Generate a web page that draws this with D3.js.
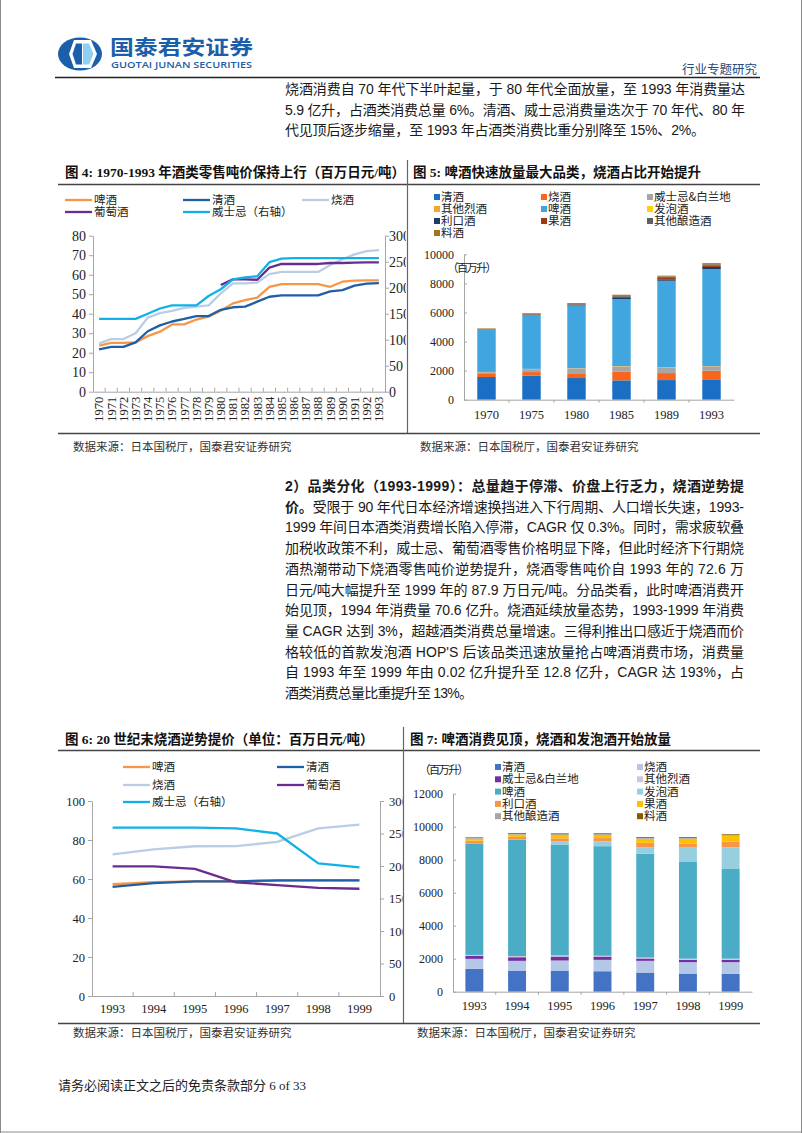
<!DOCTYPE html>
<html><head><meta charset="utf-8">
<script src="https://cdn.jsdelivr.net/npm/d3@7"></script>
<style>body{margin:0;background:#fff}svg{display:block}</style>
</head><body>
<svg id="page" width="802" height="1133"></svg>
<script>
// ---------------- DATA ----------------
// Figure 4 (1970-1993, 百万日元/吨)
const years4 = ["1970","1971","1972","1973","1974","1975","1976","1977","1978","1979","1980","1981","1982","1983","1984","1985","1986","1987","1988","1989","1990","1991","1992","1993"];
const beer4   = [23.6,25,25,25.3,28.5,30.8,34.5,34.5,37,38.5,41.5,45.3,47,48.2,53.8,55.2,55.2,55.2,55.2,53.8,56.4,57,57.1,57.1];
const sake4   = [21.7,23,23,25.3,31,34,36,37.3,38.8,38.8,42,43.3,43.6,46.2,48.7,49.4,49.4,49.4,49.4,51.4,52.1,54.4,55.4,55.7];
const shochu4 = [24.8,27,27,30,38,40.3,41.4,43,43.6,44.3,50.4,55.6,55.6,56,60.3,61.4,61.4,61.4,61.4,65,67.9,70.4,72.1,72.6];
const wine4   = [null,null,null,null,null,null,null,null,null,null,54.7,57.6,57.6,57.4,63.6,65.5,65.5,65.5,65.5,66,66,66.2,66.3,66.3];
const whisky4 = [140,140,140,140,150,160,166,166,166,184,197,216,220,222,249,256,257,257,257,257,257,257,257,257];
const leftTicks4 = [0,10,20,30,40,50,60,70,80];
const rightTicks = [0,50,100,150,200,250,300];

// Figure 5 (百万升)
const years5 = ["1970","1975","1980","1985","1989","1993"];
const keys = ["清酒","烧酒","威士忌&白兰地","其他烈酒","啤酒","发泡酒","利口酒","果酒","其他酿造酒","料酒"];
const sake5    = [1560,1650,1490,1330,1350,1400];
const shochu5  = [260,250,280,610,480,590];
const whisky5  = [70,200,360,340,360,270];
const spirits5 = [20,20,30,30,40,40];
const beer5    = [2900,3690,4310,4610,5950,6680];
const happo5   = [0,0,0,0,0,0];
const liqueur5 = [10,20,30,80,100,150];
const fruit5   = [20,40,50,80,100,80];
const brewed5  = [20,30,40,60,90,100];
const mirin5   = [40,50,60,80,60,80];
const ticks5 = [0,2000,4000,6000,8000,10000];

// Figure 6 (1993-1999, 百万日元/吨)
const years6 = ["1993","1994","1995","1996","1997","1998","1999"];
const beer6   = [57.3,58.4,58.8,58.8,59.2,59.3,59.3];
const sake6   = [56,57.9,58.8,58.8,59.3,59.3,59.3];
const shochu6 = [72.6,75.2,76.8,76.9,79,86,87.9];
const wine6   = [66.5,66.5,65.2,58.3,56.9,55.5,55];
const whisky6 = [259,259,259,258,250,204,198];
const leftTicks6 = [0,20,40,60,80,100];

// Figure 7 (百万升)
const years7 = ["1993","1994","1995","1996","1997","1998","1999"];
const sake7    = [1380,1280,1280,1240,1160,1100,1080];
const shochu7  = [610,590,610,690,710,690,710];
const whisky7  = [180,220,240,200,140,140,140];
const spirits7 = [60,70,70,50,60,70,70];
const beer7    = [6755,7060,6720,6640,6295,5860,5470];
const happo7   = [2,10,185,290,375,880,1280];
const liqueur7 = [165,150,190,200,285,245,350];
const fruit7   = [120,140,200,190,245,285,350];
const brewed7  = [40,50,50,50,50,50,40];
const mirin7   = [40,50,50,50,50,50,50];
const ticks7 = [0,2000,4000,6000,8000,10000,12000];

// ---------------- STYLE ----------------
const CJK = '"Noto Sans CJK SC", sans-serif';
const SERIF = '"Liberation Serif", "Noto Sans CJK SC", serif';
const SANS = '"Liberation Sans", "Noto Sans CJK SC", sans-serif';
const AX = '#a6a6a6';
const TXT = '#1a1a1a';
const C4 = {beer:'#f79646', sake:'#1f5fa8', shochu:'#b9cde5', wine:'#6b2c91', whisky:'#12b0e8'};
const colors5 = ['#1a6fc4','#f7661c','#a6a6a6','#f5a72a','#41a6e0','#ffd200','#1e3a66','#9c3b12','#606060','#a8701f'];
const colors7 = ['#4472c4','#b4c7e7','#7030a0','#d1c6e0','#4bacc6','#97cfdf','#f79646','#ffc000','#a5a5a5','#7f6000'];
const fmt = d3.format('d');

const svg = d3.select('#page');
const defs = svg.append('defs');

// page border
svg.append('line').attr('x1',0.5).attr('x2',0.5).attr('y1',0).attr('y2',1133).attr('stroke','#8a8a8a');
svg.append('line').attr('x1',801.5).attr('x2',801.5).attr('y1',0).attr('y2',1133).attr('stroke','#8a8a8a');
svg.append('line').attr('x1',0).attr('x2',802).attr('y1',1132).attr('y2',1132).attr('stroke','#8a8a8a');

// ---------------- HEADER ----------------
const hd = svg.append('g');
hd.append('ellipse').attr('cx',80).attr('cy',54).attr('rx',22).attr('ry',16.5).attr('fill','#1b5ea9');
hd.append('polygon').attr('points','74,40 91,40 97,54 91,68 74,68 69,54').attr('fill','#fff');
hd.append('polygon').attr('points','76,43.5 82,43.5 82,64.5 76,64.5 72.5,54').attr('fill','#1b5ea9');
hd.append('polygon').attr('points','83,43.5 89,43.5 93.5,54 89,64.5 83,64.5').attr('fill','#8ed0f2');
hd.append('text').attr('x',110).attr('y',55).attr('font-family',CJK).attr('font-weight',700)
  .attr('font-size',20).attr('fill','#1b5ea9').attr('textLength',143).attr('lengthAdjust','spacingAndGlyphs').text('国泰君安证券');
hd.append('text').attr('x',111).attr('y',67.5).attr('font-family','"Open Sans", "Liberation Sans", sans-serif').attr('font-weight',600)
  .attr('font-size',8.5).attr('fill','#1b5ea9').attr('textLength',141).attr('lengthAdjust','spacingAndGlyphs').text('GUOTAI JUNAN SECURITIES');
hd.append('text').attr('x',757).attr('y',74).attr('text-anchor','end').attr('font-family',CJK)
  .attr('font-size',12.5).attr('fill','#2b4a78').text('行业专题研究');
hd.append('line').attr('x1',55).attr('x2',760).attr('y1',77.5).attr('y2',77.5).attr('stroke','#222').attr('stroke-width',1.3);

// ---------------- PARAGRAPHS ----------------
function para(lines, x, y0, lh, width) {
  lines.forEach((ln, i) => {
    const t = svg.append('text').attr('x', x).attr('y', y0 + i*lh).attr('font-family', SANS)
      .attr('font-size', 14).attr('fill', TXT);
    const w = ln.w || width;
    t.attr('textLength', w).attr('lengthAdjust', 'spacing');
    ln.parts.forEach(p => t.append('tspan').attr('font-weight', p.b ? 700 : 400).text(p.t));
  });
}
para([
  {parts:[{t:'烧酒消费自 70 年代下半叶起量，于 80 年代全面放量，至 1993 年消费量达'}]},
  {parts:[{t:'5.9 亿升，占酒类消费总量 6%。清酒、威士忌消费量迭次于 70 年代、80 年'}]},
  {parts:[{t:'代见顶后逐步缩量，至 1993 年占酒类消费比重分别降至 15%、2%。'}], w:420}
], 285, 94, 20.5, 460);

para([
  {parts:[{t:'2）品类分化（1993-1999）：总量趋于停滞、价盘上行乏力，烧酒逆势提', b:true}]},
  {parts:[{t:'价。', b:true},{t:'受限于 90 年代日本经济增速换挡进入下行周期、人口增长失速，1993-'}]},
  {parts:[{t:'1999 年间日本酒类消费增长陷入停滞，CAGR 仅 0.3%。同时，需求疲软叠'}]},
  {parts:[{t:'加税收政策不利，威士忌、葡萄酒零售价格明显下降，但此时经济下行期烧'}]},
  {parts:[{t:'酒热潮带动下烧酒零售吨价逆势提升，烧酒零售吨价自 1993 年的 72.6 万'}]},
  {parts:[{t:'日元/吨大幅提升至 1999 年的 87.9 万日元/吨。分品类看，此时啤酒消费开'}]},
  {parts:[{t:'始见顶，1994 年消费量 70.6 亿升。烧酒延续放量态势，1993-1999 年消费'}]},
  {parts:[{t:'量 CAGR 达到 3%，超越酒类消费总量增速。三得利推出口感近于烧酒而价'}]},
  {parts:[{t:'格较低的首款发泡酒 HOP\'S 后该品类迅速放量抢占啤酒消费市场，消费量'}]},
  {parts:[{t:'自 1993 年至 1999 年由 0.02 亿升提升至 12.8 亿升，CAGR 达 193%，占'}]},
  {parts:[{t:'酒类消费总量比重提升至 13%。'}], w:188}
], 285, 491, 20.7, 459);

// ---------------- PANEL FRAMES ----------------
function frame(o) {
  const g = svg.append('g');
  g.append('text').attr('x', o.t1x).attr('y', o.ty).attr('font-family', SERIF).attr('font-weight', 700)
    .attr('font-size', 13.5).attr('fill', '#111').text(o.t1);
  g.append('text').attr('x', o.t2x).attr('y', o.ty).attr('font-family', SERIF).attr('font-weight', 700)
    .attr('font-size', 13.5).attr('fill', '#111').text(o.t2);
  g.append('line').attr('x1', 58).attr('x2', 760).attr('y1', o.ly).attr('y2', o.ly).attr('stroke', '#444').attr('stroke-width', 1.4);
  g.append('line').attr('x1', o.dx).attr('x2', o.dx).attr('y1', o.dy0).attr('y2', o.by).attr('stroke', '#666').attr('stroke-width', 1.2);
  g.append('line').attr('x1', 58).attr('x2', 760).attr('y1', o.by).attr('y2', o.by).attr('stroke', '#444').attr('stroke-width', 1.4);
  g.append('text').attr('x', o.s1x).attr('y', o.sy).attr('font-family', CJK).attr('font-size', 11.5).attr('fill', '#333').text('数据来源：日本国税厅，国泰君安证券研究');
  g.append('text').attr('x', o.s2x).attr('y', o.sy).attr('font-family', CJK).attr('font-size', 11.5).attr('fill', '#333').text('数据来源：日本国税厅，国泰君安证券研究');
}
frame({t1:'图 4:  1970-1993 年酒类零售吨价保持上行（百万日元/吨）', t1x:65, t2:'图 5:  啤酒快速放量最大品类，烧酒占比开始提升', t2x:413, ty:177, ly:184.5, dx:407.5, dy0:160, by:433.5, s1x:73, s2x:420, sy:451});
frame({t1:'图 6:  20 世纪末烧酒逆势提价（单位：百万日元/吨）', t1x:65, t2:'图 7:  啤酒消费见顶，烧酒和发泡酒开始放量', t2x:410, ty:744, ly:750.5, dx:403.5, dy0:727, by:1023.5, s1x:73, s2x:417, sy:1037});

// footer
svg.append('text').attr('x', 58).attr('y', 1090).attr('font-family', SERIF).attr('font-size', 13).attr('fill', '#222')
  .text('请务必阅读正文之后的免责条款部分 6 of 33');

// ---------------- HELPERS ----------------
function styleAxis(sel, size) {
  sel.select('.domain').attr('stroke', AX);
  sel.selectAll('.tick line').attr('stroke', AX);
  sel.selectAll('.tick text').attr('font-family', SERIF).attr('font-size', size).attr('fill', '#222');
}

function lineChart(o) {
  const g = svg.append('g');
  const x = d3.scaleBand().domain(o.cats).range([o.x0, o.x1]);
  const yL = d3.scaleLinear().domain([0, o.lmax]).range([o.yb, o.yt]);
  const yR = d3.scaleLinear().domain([0, 300]).range([o.yb, o.yt]);
  defs.append('clipPath').attr('id', o.clip).append('rect')
    .attr('x', -10).attr('y', o.yt - 15).attr('width', o.clipW + 10).attr('height', o.yb - o.yt + 30);
  const gl = g.append('g').attr('transform', `translate(${o.x0},0)`)
    .call(d3.axisLeft(yL).tickValues(o.lticks).tickFormat(fmt).tickSizeInner(4).tickSizeOuter(0).tickPadding(3));
  styleAxis(gl, o.lfs);
  const gr = g.append('g').attr('transform', `translate(${o.x1},0)`).attr('clip-path', `url(#${o.clip})`)
    .call(d3.axisRight(yR).tickValues(rightTicks).tickFormat(fmt).tickSizeInner(4).tickSizeOuter(0).tickPadding(o.rpad));
  styleAxis(gr, o.rfs);
  const gx = g.append('g').attr('transform', `translate(0,${o.yb})`)
    .call(d3.axisBottom(x).tickSize(0).tickSizeOuter(0).tickPadding(o.xpad));
  styleAxis(gx, o.xfs);
  gx.selectAll('line.bt').data(o.cats.slice(1)).enter().append('line').attr('class', 'bt')
    .attr('x1', d => x(d)).attr('x2', d => x(d)).attr('y1', 0).attr('y2', -4).attr('stroke', AX);
  if (o.rotate) {
    gx.selectAll('.tick text').attr('transform', 'rotate(-90)').attr('text-anchor', 'end')
      .attr('x', -5).attr('y', 0).attr('dy', '0.35em');
  }
  o.series.forEach(s => {
    const sc = s.right ? yR : yL;
    const line = d3.line().defined(d => d != null)
      .x((d, i) => x(o.cats[i]) + x.bandwidth() / 2).y(d => sc(d));
    g.append('path').datum(s.values).attr('d', line).attr('fill', 'none')
      .attr('stroke', s.color).attr('stroke-width', 2.3).attr('stroke-linejoin', 'round');
  });
  // legend
  o.legend.forEach(l => {
    g.append('line').attr('x1', l.x).attr('x2', l.x + o.lw).attr('y1', l.y).attr('y2', l.y)
      .attr('stroke', l.color).attr('stroke-width', 2.3);
    g.append('text').attr('x', l.x + o.lw + 2).attr('y', l.y).attr('dy', '0.35em')
      .attr('font-family', CJK).attr('font-size', 11.5).attr('fill', '#222').text(l.name);
  });
}

function barChart(o) {
  const g = svg.append('g');
  const x = d3.scaleBand().domain(o.cats).range([o.x0, o.x1]).paddingInner(o.pad).paddingOuter(o.pad / 2);
  const y = d3.scaleLinear().domain([0, o.ymax]).range([o.yb, o.yt]);
  const rows = o.cats.map((c, i) => {
    const r = {cat: c};
    keys.forEach((k, j) => r[k] = o.values[j][i]);
    return r;
  });
  const stacked = d3.stack().keys(keys)(rows);
  g.selectAll('g.layer').data(stacked).enter().append('g').attr('fill', (d, i) => o.colors[i])
    .selectAll('rect').data(d => d).enter().append('rect')
    .attr('x', d => x(d.data.cat)).attr('width', x.bandwidth())
    .attr('y', d => y(d[1])).attr('height', d => Math.max(0, y(d[0]) - y(d[1])));
  const gy = g.append('g').attr('transform', `translate(${o.x0},0)`)
    .call(d3.axisLeft(y).tickValues(o.ticks).tickFormat(fmt).tickSizeInner(4).tickSizeOuter(0).tickPadding(6));
  styleAxis(gy, 12);
  gy.selectAll('.tick line').attr('x2', 3);
  const gx = g.append('g').attr('transform', `translate(0,${o.yb})`)
    .call(d3.axisBottom(x).tickSize(0).tickSizeOuter(0).tickPadding(o.xpad));
  styleAxis(gx, 12.5);
  gx.selectAll('line.bt').data(o.cats.slice(1)).enter().append('line').attr('class', 'bt')
    .attr('x1', d => x(d) - x.step() * x.paddingInner() / 2).attr('x2', d => x(d) - x.step() * x.paddingInner() / 2)
    .attr('y1', 0).attr('y2', 3).attr('stroke', AX);
  g.append('text').attr('x', o.unitX).attr('y', o.unitY).attr('dy', '0.35em').attr('font-family', CJK)
    .attr('font-size', 11.5).attr('fill', '#222').attr('textLength', 50).attr('lengthAdjust', 'spacing').text('（百万升）');
  keys.forEach((k, i) => {
    const col = i % o.ncol, row = Math.floor(i / o.ncol);
    const lx = o.legX[col], ly = o.legY0 + row * o.legDY;
    g.append('rect').attr('x', lx).attr('y', ly - 3).attr('width', 6).attr('height', 6).attr('fill', o.colors[i]);
    g.append('text').attr('x', lx + 7).attr('y', ly).attr('dy', '0.35em').attr('font-family', CJK)
      .attr('font-size', 11.5).attr('fill', '#222').text(k);
  });
}

// ---------------- FIGURE 4 ----------------
lineChart({
  cats: years4, x0: 93, x1: 385, yb: 391.7, yt: 235.7, lmax: 80, lticks: leftTicks4,
  clip: 'clip4', clipW: 21, lfs: 14, rfs: 14, rpad: 0, xfs: 12.5, xpad: 0, rotate: true, lw: 27,
  series: [
    {values: beer4, color: C4.beer},
    {values: sake4, color: C4.sake},
    {values: shochu4, color: C4.shochu},
    {values: wine4, color: C4.wine},
    {values: whisky4, color: C4.whisky, right: true}
  ],
  legend: [
    {name: '啤酒', color: C4.beer, x: 65, y: 200},
    {name: '清酒', color: C4.sake, x: 183, y: 200},
    {name: '烧酒', color: C4.shochu, x: 302, y: 200},
    {name: '葡萄酒', color: C4.wine, x: 65, y: 212},
    {name: '威士忌（右轴）', color: C4.whisky, x: 183, y: 212}
  ]
});

// ---------------- FIGURE 6 ----------------
lineChart({
  cats: years6, x0: 92, x1: 380, yb: 996, yt: 801, lmax: 100, lticks: leftTicks6,
  clip: 'clip6', clipW: 22.5, lfs: 12.5, rfs: 12.5, rpad: 5, xfs: 12.5, xpad: 8, rotate: false, lw: 27,
  series: [
    {values: beer6, color: C4.beer},
    {values: sake6, color: C4.sake},
    {values: shochu6, color: C4.shochu},
    {values: wine6, color: C4.wine},
    {values: whisky6, color: C4.whisky, right: true}
  ],
  legend: [
    {name: '啤酒', color: C4.beer, x: 123, y: 767},
    {name: '清酒', color: C4.sake, x: 277, y: 767},
    {name: '烧酒', color: C4.shochu, x: 123, y: 785},
    {name: '葡萄酒', color: C4.wine, x: 277, y: 785},
    {name: '威士忌（右轴）', color: C4.whisky, x: 123, y: 802}
  ]
});

// ---------------- FIGURE 5 ----------------
barChart({
  cats: years5, x0: 464, x1: 734, yb: 399.7, yt: 254.3, ymax: 10000, ticks: ticks5, pad: 0.59, xpad: 10,
  values: [sake5, shochu5, whisky5, spirits5, beer5, happo5, liqueur5, fruit5, brewed5, mirin5],
  colors: colors5, unitX: 447, unitY: 268,
  ncol: 3, legX: [434, 541, 647], legY0: 197, legDY: 12
});

// ---------------- FIGURE 7 ----------------
barChart({
  cats: years7, x0: 453, x1: 752, yb: 991.7, yt: 793.7, ymax: 12000, ticks: ticks7, pad: 0.58, xpad: 9,
  values: [sake7, shochu7, whisky7, spirits7, beer7, happo7, liqueur7, fruit7, brewed7, mirin7],
  colors: colors7, unitX: 419, unitY: 770,
  ncol: 2, legX: [495, 637], legY0: 767, legDY: 12.3
});
</script>
</body></html>
